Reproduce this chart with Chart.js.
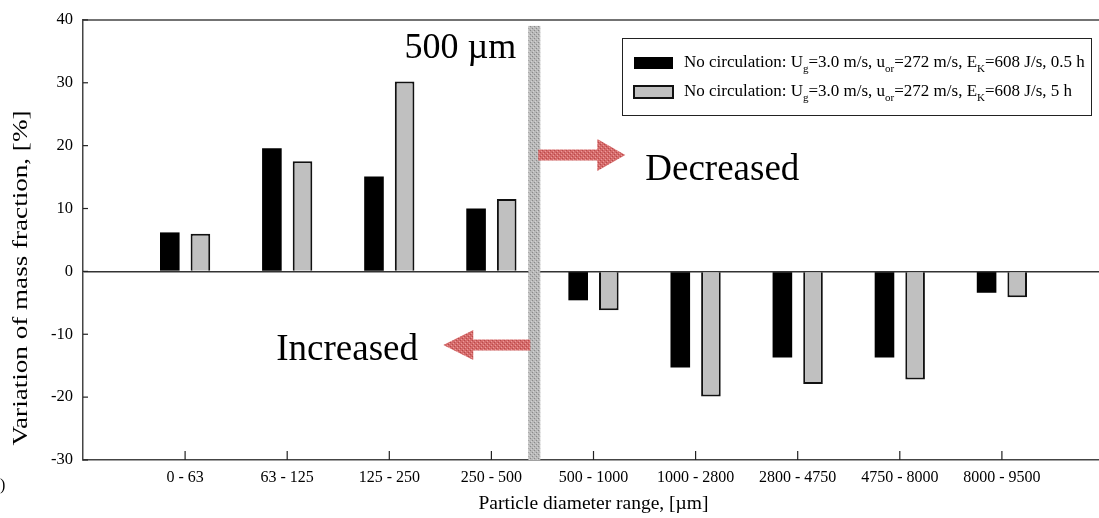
<!DOCTYPE html>
<html>
<head>
<meta charset="utf-8">
<script src="https://cdn.jsdelivr.net/npm/chart.js@4/dist/chart.umd.min.js"></script>
<style>
  html, body { margin: 0; padding: 0; background: #fff; overflow: hidden; }
  #wrap { width: 1112px; height: 518px; }
</style>
</head>
<body>
<div id="wrap"><canvas id="chart" width="1112" height="518"></canvas></div>
<script>
// Данные графика
const categories = ['0 - 63', '63 - 125', '125 - 250', '250 - 500', '500 - 1000',
  '1000 - 2800', '2800 - 4750', '4750 - 8000', '8000 - 9500'];
const series05h = [6.2, 19.6, 15.1, 10.0, -4.6, -15.3, -13.7, -13.7, -3.4];
const series5h = [6.0, 17.5, 30.2, 11.5, -6.2, -19.9, -17.9, -17.2, -4.1];
const seriesLabels = [
  'No circulation: Ug=3.0 m/s, uor=272 m/s, EK=608 J/s, 0.5 h',
  'No circulation: Ug=3.0 m/s, uor=272 m/s, EK=608 J/s, 5 h'
];
// части подписи легенды: [текст, индекс?]
const legendParts = [
  [['No circulation: U', 0], ['g', 1], ['=3.0 m/s, u', 0], ['or', 1], ['=272 m/s, E', 0], ['K', 1], ['=608 J/s, 0.5 h', 0]],
  [['No circulation: U', 0], ['g', 1], ['=3.0 m/s, u', 0], ['or', 1], ['=272 m/s, E', 0], ['K', 1], ['=608 J/s, 5 h', 0]]
];
const yMin = -30, yMax = 40, yStep = 10;
const yTitle = 'Variation of mass fraction, [%]';
const xTitle = 'Particle diameter range, [\u00b5m]';

const SERIF = "'Liberation Serif', 'Times New Roman', serif";

// пустые категории по краям, чтобы ось начиналась на целый шаг раньше
const labels = [''].concat(categories, ['']);
const pad = (arr) => [null].concat(arr, [null]);

function makePattern(base, dark, light) {
  const c = document.createElement('canvas');
  c.width = 4; c.height = 4;
  const g = c.getContext('2d');
  g.fillStyle = base; g.fillRect(0, 0, 4, 4);
  g.fillStyle = dark; g.fillRect(0, 0, 1, 1); g.fillRect(2, 2, 1, 1);
  g.fillStyle = light; g.fillRect(1, 3, 1, 1); g.fillRect(3, 1, 1, 1);
  return c;
}

// Рамка, внутренние засечки, разделитель, стрелки, легенда
const decorPlugin = {
  id: 'decor',
  afterDatasetsDraw(chart) {
    const { ctx, chartArea: a, scales: { x, y } } = chart;
    ctx.save();

    // верхняя линия рамки
    ctx.strokeStyle = '#444';
    ctx.lineWidth = 1.5;
    ctx.beginPath();
    ctx.moveTo(a.left, a.top);
    ctx.lineTo(a.right, a.top);
    ctx.stroke();

    // засечки внутрь
    ctx.lineWidth = 1.2;
    ctx.strokeStyle = '#222';
    y.ticks.forEach(t => {
      const py = y.getPixelForValue(t.value);
      ctx.beginPath();
      ctx.moveTo(a.left, py);
      ctx.lineTo(a.left + 5, py);
      ctx.stroke();
    });
    for (let i = 1; i <= categories.length; i++) {
      const px = x.getPixelForValue(i);
      ctx.beginPath();
      ctx.moveTo(px, a.bottom);
      ctx.lineTo(px, a.bottom - 9);
      ctx.stroke();
    }

    // вертикальный разделитель 500 мкм
    const step = x.getPixelForValue(5) - x.getPixelForValue(4);
    const sepX = x.getPixelForValue(4) + 0.42 * step;
    const grayPat = ctx.createPattern(makePattern('#b9b9b9', '#8a8a8a', '#d2d2d2'), 'repeat');
    ctx.fillStyle = grayPat;
    ctx.fillRect(sepX - 6, a.top + 6, 12, a.bottom - a.top - 6);

    // стрелки
    const redPat = ctx.createPattern(makePattern('#d56a6a', '#b84a4a', '#ea9a9a'), 'repeat');
    ctx.fillStyle = redPat;
    const ry = y.getPixelForValue(18.5);
    ctx.beginPath();
    ctx.moveTo(sepX + 4, ry - 5.5);
    ctx.lineTo(sepX + 63, ry - 5.5);
    ctx.lineTo(sepX + 63, ry - 16);
    ctx.lineTo(sepX + 91, ry);
    ctx.lineTo(sepX + 63, ry + 16);
    ctx.lineTo(sepX + 63, ry + 5.5);
    ctx.lineTo(sepX + 4, ry + 5.5);
    ctx.closePath();
    ctx.fill();
    const ly = y.getPixelForValue(-11.7);
    ctx.beginPath();
    ctx.moveTo(sepX - 4, ly - 5.5);
    ctx.lineTo(sepX - 61, ly - 5.5);
    ctx.lineTo(sepX - 61, ly - 15);
    ctx.lineTo(sepX - 91, ly);
    ctx.lineTo(sepX - 61, ly + 15);
    ctx.lineTo(sepX - 61, ly + 5.5);
    ctx.lineTo(sepX - 4, ly + 5.5);
    ctx.closePath();
    ctx.fill();

    // надписи
    ctx.fillStyle = '#000';
    ctx.textBaseline = 'alphabetic';
    ctx.font = '36px ' + SERIF;
    ctx.textAlign = 'right';
    ctx.fillText('500 \u00b5m', sepX - 18, y.getPixelForValue(33.9));
    ctx.textAlign = 'left';
    ctx.font = '37px ' + SERIF;
    ctx.fillText('Decreased', sepX + 111, y.getPixelForValue(14.6));
    ctx.fillText('Increased', sepX - 258, y.getPixelForValue(-14.1));

    // подпись оси Y (растянута по длине, как в оригинале)
    ctx.save();
    ctx.translate(22, 278);
    ctx.rotate(-Math.PI / 2);
    ctx.font = '20px ' + SERIF;
    const w = ctx.measureText(yTitle).width;
    ctx.scale(335 / w, 1);
    ctx.textAlign = 'center';
    ctx.textBaseline = 'middle';
    ctx.fillText(yTitle, 0, 0);
    ctx.restore();

    ctx.font = '16px ' + SERIF;
    ctx.textAlign = 'left';
    ctx.fillText(')', 0, 490);

    // легенда
    const bx = 622, by = 38, bw = 469, bh = 77;
    ctx.fillStyle = '#fff';
    ctx.fillRect(bx, by, bw, bh);
    ctx.strokeStyle = '#222';
    ctx.lineWidth = 1;
    ctx.strokeRect(bx + 0.5, by + 0.5, bw, bh);
    const rows = [63, 92];
    chart.data.datasets.forEach((ds, i) => {
      const cy = rows[i];
      ctx.fillStyle = ds.backgroundColor;
      ctx.fillRect(bx + 12, cy - 6, 39, 12);
      if (ds.borderWidth) {
        ctx.strokeStyle = ds.borderColor;
        ctx.lineWidth = 2;
        ctx.strokeRect(bx + 12, cy - 6, 39, 12);
      }
      ctx.fillStyle = '#000';
      ctx.textBaseline = 'middle';
      let tx = bx + 62;
      legendParts[i].forEach(([txt, sub]) => {
        ctx.font = (sub ? '11px ' : '17px ') + SERIF;
        ctx.fillText(txt, tx, sub ? cy + 6 : cy);
        tx += ctx.measureText(txt).width;
      });
    });
    ctx.restore();
  }
};

new Chart(document.getElementById('chart'), {
  type: 'bar',
  data: {
    labels,
    datasets: [
      {
        label: seriesLabels[0],
        data: pad(series05h),
        backgroundColor: '#000000',
        borderColor: '#000000',
        borderWidth: 0,
        categoryPercentage: 0.6,
        barPercentage: 0.64
      },
      {
        label: seriesLabels[1],
        data: pad(series5h),
        backgroundColor: '#c0c0c0',
        borderColor: '#111111',
        borderWidth: 2,
        categoryPercentage: 0.6,
        barPercentage: 0.64
      }
    ]
  },
  options: {
    responsive: false,
    animation: false,
    devicePixelRatio: 1,
    layout: { padding: { top: 16, right: 0, bottom: 0, left: 0 } },
    plugins: {
      legend: { display: false },
      tooltip: { enabled: false }
    },
    scales: {
      x: {
        type: 'category',
        offset: false,
        grid: { display: false, drawTicks: false },
        border: { display: true, color: '#444', width: 1.5 },
        ticks: {
          color: '#000',
          font: { family: SERIF, size: 16 },
          padding: 8,
          maxRotation: 0,
          autoSkip: false
        },
        title: {
          display: true,
          text: xTitle,
          color: '#000',
          font: { family: SERIF, size: 19.5 },
          padding: { top: 2, bottom: 2 }
        },
        afterFit(scale) { scale.height = 58; }
      },
      y: {
        min: yMin,
        max: yMax,
        ticks: {
          stepSize: yStep,
          color: '#000',
          font: { family: SERIF, size: 16.5 },
          padding: 10
        },
        grid: {
          drawTicks: false,
          color: (c) => (c.tick && c.tick.value === 0 ? '#333' : 'rgba(0,0,0,0)'),
          lineWidth: 1.5
        },
        border: { display: true, color: '#444', width: 1.5 },
        afterFit(scale) { scale.width = 83; }
      }
    }
  },
  plugins: [decorPlugin]
});
</script>
</body>
</html>
